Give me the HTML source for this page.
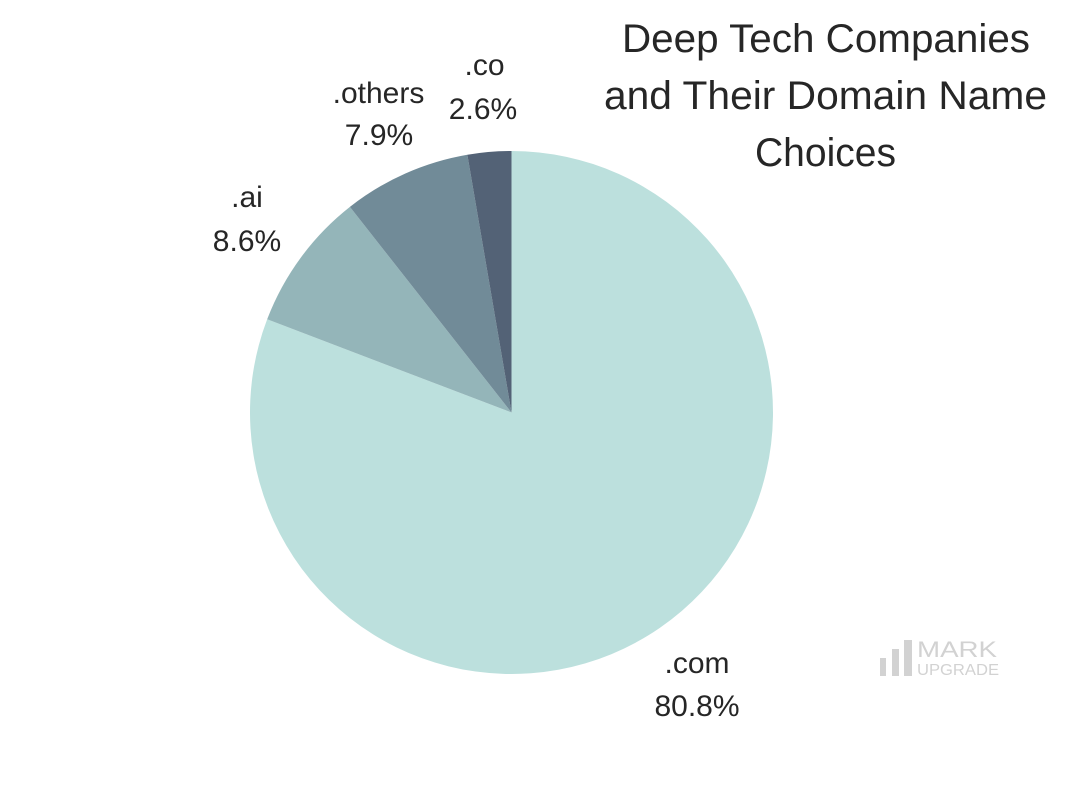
<!DOCTYPE html>
<html>
<head>
<meta charset="utf-8">
<style>
  html, body { margin: 0; padding: 0; background: #ffffff; }
  body { width: 1080px; height: 800px; overflow: hidden; }
  svg { display: block; }
  text { font-family: "Liberation Sans", "DejaVu Sans", sans-serif; fill: #262626; }
</style>
</head>
<body>
<svg width="1080" height="800" viewBox="0 0 1080 800" xmlns="http://www.w3.org/2000/svg">
  <rect width="1080" height="800" fill="#ffffff"/>

  <!-- Pie -->
  <path d="M511.5 412.5 L511.5 151 A261.5 261.5 0 1 1 267.17 319.30 Z" fill="#bce0dd"/>
  <path d="M511.5 412.5 L267.17 319.30 A261.5 261.5 0 0 1 349.91 206.90 Z" fill="#94b5b9"/>
  <path d="M511.5 412.5 L349.91 206.90 A261.5 261.5 0 0 1 467.35 154.75 Z" fill="#718b98"/>
  <path d="M511.5 412.5 L467.35 154.75 A261.5 261.5 0 0 1 511.5 151 Z" fill="#536276"/>

  <!-- Slice labels -->
  <g font-size="30" text-anchor="middle">
    <text x="697" y="673">.com</text>
    <text x="697" y="716">80.8%</text>
    <text x="247" y="207">.ai</text>
    <text x="247" y="251">8.6%</text>
    <text x="378.5" y="103">.others</text>
    <text x="379" y="145">7.9%</text>
    <text x="484.5" y="75">.co</text>
    <text x="483" y="119">2.6%</text>
  </g>

  <!-- Title -->
  <g font-size="40" text-anchor="middle">
    <text x="826" y="52" textLength="408" lengthAdjust="spacingAndGlyphs">Deep Tech Companies</text>
    <text x="825.5" y="109" textLength="443" lengthAdjust="spacingAndGlyphs">and Their Domain Name</text>
    <text x="825.5" y="166" textLength="141" lengthAdjust="spacingAndGlyphs">Choices</text>
  </g>

  <!-- Logo -->
  <g fill="#d2d2d2">
    <rect x="880" y="658" width="6" height="18"/>
    <rect x="892" y="649" width="7" height="27"/>
    <rect x="904" y="640" width="8" height="36"/>
  </g>
  <text x="917" y="657" font-size="22" textLength="80" lengthAdjust="spacingAndGlyphs" style="fill:#d2d2d2">MARK</text>
  <text x="917" y="675" font-size="16" textLength="82" lengthAdjust="spacingAndGlyphs" style="fill:#d2d2d2">UPGRADE</text>
</svg>
</body>
</html>
